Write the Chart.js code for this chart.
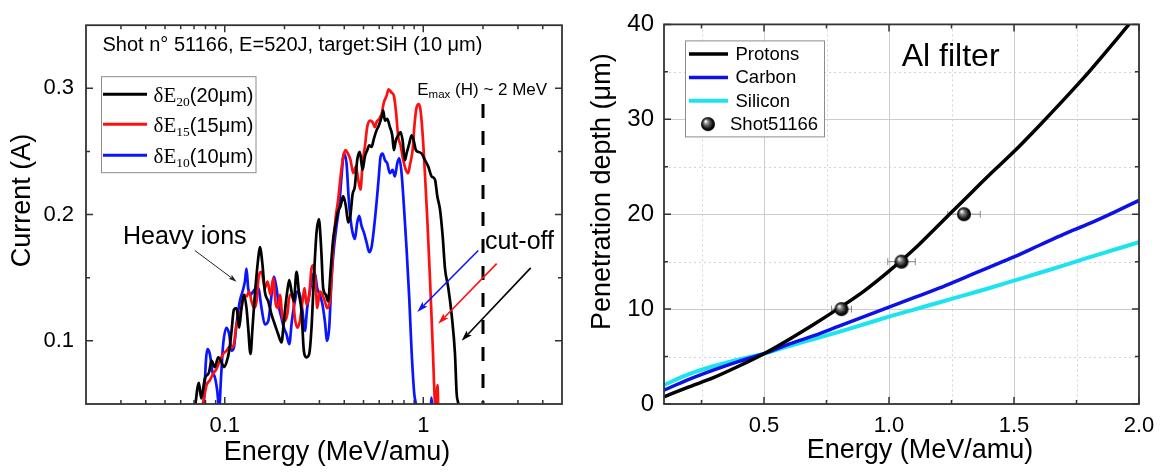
<!DOCTYPE html>
<html>
<head>
<meta charset="utf-8">
<script src="https://cdn.jsdelivr.net/npm/chart.js@4.4.1/dist/chart.umd.min.js"></script>
<style>
  html, body { margin: 0; padding: 0; background: #fff; width: 1165px; height: 473px; overflow: hidden; }
  canvas { position: absolute; top: 0; }
  #spectrum { left: 0; }
  #range { left: 580px; }
</style>
</head>
<body>
<canvas id="spectrum" width="580" height="473"></canvas>
<canvas id="range" width="585" height="473"></canvas>
<script>
const SANS = "'Liberation Sans', Arial, sans-serif";
const SERIF = "'Liberation Serif', 'Times New Roman', serif";

// ---- Ion spectrum, shot 51166 (energy in MeV/amu, current in A) ----
const de20Energy = [0.0705,0.0741,0.0761,0.0794,0.0834,0.0857,0.0891,0.0927,0.0963,0.0990,
  0.1021,0.1053,0.1082,0.1112,0.1146,0.1182,0.1214,0.1249,0.1287,0.1312,
  0.1348,0.1380,0.1418,0.1474,0.1503,0.1550,0.1592,0.1656,0.1721,0.1788,
  0.1859,0.1932,0.1985,0.2064,0.2113,0.2169,0.2229,0.2299,0.2371,0.2437,
  0.2503,0.2582,0.2663,0.2736,0.2812,0.2900,0.2980,0.3061,0.3133,0.3232,
  0.3320,0.3411,0.3518,0.3629,0.3728,0.3832,0.3951,0.4075,0.4187,0.4302,
  0.4403,0.4524,0.4649,0.4794,0.4945,0.5080,0.5220,0.5343,0.5489,0.5642,
  0.5817,0.5977,0.6165,0.6285,0.6408,0.6584,0.6792,0.6979,0.7114,0.7281,
  0.7481,0.7686,0.7867,0.8083,0.8241,0.8501,0.8733,0.8904,0.9185,0.9436,
  0.9808,1.0195,1.060,1.102,1.146,1.177,1.214,1.252,1.287,1.338,
  1.390,1.445,1.473,1.502,1.52];
const de20Current = [0.045,0.0667,0.0544,0.0701,0.0753,0.0844,0.0792,0.0870,0.0831,0.0792,
  0.0831,0.0922,0.1078,0.1247,0.1260,0.1104,0.1260,0.1365,0.1260,0.1104,
  0.0896,0.1104,0.1365,0.1651,0.1742,0.1599,0.1391,0.1313,0.1208,0.1130,
  0.1052,0.0987,0.1156,0.1391,0.1482,0.1391,0.1313,0.1547,0.1365,0.1234,
  0.0922,0.0870,0.0896,0.1104,0.1495,0.1859,0.1964,0.1729,0.1417,0.1365,
  0.1313,0.1547,0.1807,0.1938,0.2029,0.2068,0.2146,0.2068,0.1938,0.2003,
  0.2159,0.2224,0.2432,0.2497,0.2354,0.2458,0.2510,0.2549,0.2536,0.2602,
  0.2667,0.2706,0.2771,0.2823,0.2745,0.2758,0.2693,0.2628,0.2510,0.2589,
  0.2628,0.2654,0.2589,0.2432,0.2484,0.2563,0.2628,0.2602,0.2510,0.2497,
  0.2484,0.2432,0.2380,0.2302,0.2276,0.2146,0.2042,0.1833,0.1573,0.1417,
  0.1208,0.0896,0.0583,0.050,0.040];

const de15Energy = [0.0765,0.0788,0.0809,0.0841,0.0874,0.0909,0.0945,0.0982,0.1021,0.1049,
  0.1082,0.1112,0.1146,0.1178,0.1214,0.1249,0.1287,0.1328,0.1364,0.1407,
  0.1446,0.1486,0.1532,0.1592,0.1643,0.1701,0.1754,0.1809,0.1859,0.1895,
  0.1955,0.2008,0.2064,0.2128,0.2195,0.2255,0.2317,0.2390,0.2465,0.2523,
  0.2582,0.2663,0.2736,0.2790,0.2867,0.2923,0.3014,0.3109,0.3194,0.3281,
  0.3411,0.3518,0.3629,0.3728,0.3832,0.3951,0.4060,0.4171,0.4302,0.4437,
  0.4577,0.4703,0.4831,0.4945,0.5080,0.5220,0.5384,0.5554,0.5707,0.5817,
  0.6000,0.6165,0.6334,0.6533,0.6687,0.6925,0.7114,0.7281,0.7481,0.7686,
  0.7928,0.8178,0.8402,0.8566,0.8836,0.9044,0.9256,0.9511,0.9695,0.9923,
  1.0195,1.048,1.081,1.115,1.146,1.160,1.172,1.180,1.190,1.200];
const de15Current = [0.045,0.0557,0.0648,0.0688,0.0740,0.0779,0.0844,0.0896,0.0922,0.0948,
  0.0948,0.0974,0.1130,0.1182,0.1260,0.1365,0.1352,0.1391,0.1313,0.1260,
  0.1313,0.1521,0.1547,0.1417,0.1469,0.1365,0.1495,0.1286,0.1260,0.1365,
  0.1182,0.1156,0.1208,0.1365,0.1365,0.1182,0.1104,0.1156,0.1313,0.1417,
  0.1286,0.1365,0.1573,0.1599,0.1469,0.1260,0.1391,0.1365,0.1313,0.1260,
  0.1365,0.1755,0.1990,0.2120,0.2302,0.2458,0.2510,0.2484,0.2432,0.2328,
  0.2380,0.2276,0.2198,0.2406,0.2536,0.2693,0.2745,0.2732,0.2693,0.2732,
  0.2758,0.2797,0.2888,0.2940,0.2992,0.2966,0.2940,0.2823,0.2615,0.2549,
  0.2432,0.2354,0.2328,0.2393,0.2510,0.2719,0.2849,0.2875,0.2823,0.2641,
  0.2328,0.1964,0.1495,0.0974,0.050,0.046,0.060,0.065,0.048,0.040];

const de10Energy = [0.0783,0.0804,0.0818,0.0841,0.0867,0.0891,0.0916,0.0938,0.0956,0.0982,
  0.1021,0.1053,0.1082,0.1112,0.1146,0.1191,0.1229,0.1263,0.1287,0.1312,
  0.1348,0.1391,0.1435,0.1474,0.1532,0.1592,0.1656,0.1721,0.1768,0.1823,
  0.1880,0.1932,0.1985,0.2048,0.2113,0.2178,0.2255,0.2317,0.2390,0.2465,
  0.2532,0.2602,0.2684,0.2769,0.2844,0.2923,0.3014,0.3109,0.3194,0.3281,
  0.3359,0.3451,0.3545,0.3657,0.3772,0.3876,0.3982,0.4107,0.4204,0.4302,
  0.4403,0.4524,0.4649,0.4758,0.4887,0.5022,0.5180,0.5343,0.5489,0.5642,
  0.5817,0.5954,0.6094,0.6238,0.6408,0.6584,0.6792,0.7006,0.7197,0.7395,
  0.7569,0.7776,0.7990,0.8241,0.8501,0.8733,0.9008,0.9185,0.930,
  1.090,1.100,1.110];
const de10Current = [0.046,0.0844,0.0935,0.0896,0.0753,0.0714,0.0609,0.046,0.0688,0.0974,
  0.1104,0.1052,0.0922,0.0948,0.1130,0.1313,0.1391,0.1469,0.1573,0.1417,
  0.1365,0.1391,0.1417,0.1417,0.1260,0.1130,0.1156,0.1365,0.1508,0.1417,
  0.1260,0.1182,0.1104,0.1052,0.0974,0.1156,0.1313,0.1391,0.1365,0.1234,
  0.1078,0.1260,0.1391,0.1521,0.1534,0.1417,0.1365,0.1286,0.1156,0.1000,
  0.1104,0.1495,0.1729,0.1911,0.2068,0.2302,0.2484,0.2406,0.2146,0.1964,
  0.1859,0.1807,0.1938,0.1990,0.1911,0.1859,0.1781,0.1703,0.1742,0.1885,
  0.2094,0.2276,0.2458,0.2484,0.2432,0.2406,0.2328,0.2354,0.2302,0.2406,
  0.2445,0.2328,0.2068,0.1729,0.1339,0.0922,0.0583,0.050,0.045,
  0.045,0.055,0.045];

const specLabels = ['20', '15', '10'];          // δE subscripts (filter thickness, μm)
const specColors = ['#000000', '#ff1010', '#0a14ff'];
const specXTicks = [0.1, 1];
const specXTickLabels = ['0.1', '1'];
const specXMinor = [0.03,0.04,0.05,0.06,0.07,0.08,0.09,0.2,0.3,0.4,0.5,0.6,0.7,0.8,0.9,2,3,4];
const specYTicks = [0.1, 0.2, 0.3];
const specYTickLabels = ['0.1', '0.2', '0.3'];
const specYMinor = [0.15, 0.25];
const emaxEnergy = 2;        // proton cut-off marker (MeV)
const emaxLineTop = 0.2875;

// ---- Penetration depth in Al (μm) vs energy (MeV/amu) ----
const rangeEnergy  = [0.1,0.2,0.3,0.4,0.5,0.6,0.7,0.8,0.9,1.0,1.1,1.2,1.3,1.4,1.5,1.6,1.7,1.8,1.9,2.0];
const protonDepth  = [0.76,1.8,2.8,4.0,5.3,6.8,8.4,10.1,11.9,14.0,16.3,18.9,21.5,24.1,26.6,29.3,32.1,35.0,38.1,41.3];
const carbonDepth  = [1.46,2.6,3.6,4.5,5.3,6.3,7.2,8.2,9.2,10.2,11.2,12.2,13.3,14.4,15.5,16.7,17.9,19.0,20.2,21.45];
const siliconDepth = [2.0,3.15,4.0,4.7,5.3,6.1,6.85,7.6,8.4,9.2,9.95,10.7,11.45,12.2,13.0,13.8,14.6,15.45,16.25,17.05];
const shotEnergy    = [0.81, 1.05, 1.30];
const shotEnergyErr = [0.04, 0.055, 0.065];
const shotDepth     = [10, 15, 20];
const rangeXTicks = [0.5, 1.0, 1.5, 2.0];
const rangeXTickLabels = ['0.5', '1.0', '1.5', '2.0'];
const rangeXMinor = [0.25, 0.75, 1.25, 1.75];
const rangeYTicks = [0, 10, 20, 30, 40];
const rangeYTickLabels = ['0', '10', '20', '30', '40'];
const rangeYMinor = [5, 15, 25, 35];

const zip = (xs, ys) => xs.map((v, i) => ({ x: v, y: ys[i] }));

// Inward ticks on all four sides plus the closed frame.
function drawFrame(chart, s) {
  const { ctx, chartArea: a, scales: { x, y } } = chart;
  ctx.save();
  ctx.strokeStyle = '#333';
  ctx.lineWidth = 1.5;
  ctx.beginPath();
  const xt = (vals, len) => vals.forEach(v => {
    const p = x.getPixelForValue(v);
    ctx.moveTo(p, a.bottom); ctx.lineTo(p, a.bottom - len);
    ctx.moveTo(p, a.top); ctx.lineTo(p, a.top + len);
  });
  const yt = (vals, len) => vals.forEach(v => {
    const p = y.getPixelForValue(v);
    ctx.moveTo(a.left, p); ctx.lineTo(a.left + len, p);
    ctx.moveTo(a.right, p); ctx.lineTo(a.right - len, p);
  });
  xt(s.xMajor, 7); xt(s.xMinor, 4);
  yt(s.yMajor, 7); yt(s.yMinor, 4);
  ctx.stroke();
  ctx.lineWidth = 1.8;
  ctx.strokeRect(a.left, a.top, a.right - a.left, a.bottom - a.top);
  ctx.restore();
}

function drawAxisTitles(chart, t) {
  const { ctx, chartArea: a } = chart;
  const cx = (a.left + a.right) / 2, cy = (a.top + a.bottom) / 2;
  ctx.save();
  ctx.fillStyle = '#000';
  ctx.font = '27px ' + SANS;
  ctx.textAlign = 'center';
  ctx.textBaseline = 'middle';
  ctx.fillText(t.x, cx + t.xShift, a.bottom + t.xDrop);
  ctx.translate(t.yLeft, cy + t.yShift);
  ctx.rotate(-Math.PI / 2);
  ctx.fillText(t.y, 0, 0);
  ctx.restore();
}

function arrow(ctx, x1, y1, x2, y2, color, w, hl, hw) {
  const ang = Math.atan2(y2 - y1, x2 - x1);
  ctx.save();
  ctx.strokeStyle = color; ctx.fillStyle = color; ctx.lineWidth = w;
  ctx.beginPath();
  ctx.moveTo(x1, y1);
  ctx.lineTo(x2 - Math.cos(ang) * hl * 0.8, y2 - Math.sin(ang) * hl * 0.8);
  ctx.stroke();
  ctx.translate(x2, y2); ctx.rotate(ang);
  ctx.beginPath();
  ctx.moveTo(0, 0); ctx.lineTo(-hl, hw / 2); ctx.lineTo(-hl * 0.8, 0); ctx.lineTo(-hl, -hw / 2);
  ctx.closePath(); ctx.fill();
  ctx.restore();
}

const spectrumDecor = {
  id: 'spectrumDecor',
  afterDatasetsDraw(chart) {
    const { ctx, chartArea: a, scales: { x, y } } = chart;
    const px = v => x.getPixelForValue(v), py = v => y.getPixelForValue(v);

    // proton cut-off marker
    ctx.save();
    ctx.strokeStyle = '#000'; ctx.lineWidth = 3; ctx.setLineDash([14, 13]);
    ctx.beginPath();
    ctx.moveTo(px(emaxEnergy), py(emaxLineTop));
    ctx.lineTo(px(emaxEnergy), a.bottom);
    ctx.stroke();
    ctx.restore();

    ctx.save();
    ctx.fillStyle = '#000';
    ctx.textBaseline = 'alphabetic';
    ctx.textAlign = 'left';

    // header
    ctx.font = '20px ' + SANS;
    ctx.fillText('Shot n° 51166, E=520J, target:SiH (10 μm)', a.left + 16.5, a.top + 25.7);

    // E_max label
    let ex = px(0.933), ey = py(0.2948);
    ctx.font = '17px ' + SANS;
    ctx.fillText('E', ex, ey);
    ex += ctx.measureText('E').width;
    ctx.font = '11.5px ' + SANS;
    ctx.fillText('max', ex, ey + 3);
    ex += ctx.measureText('max').width;
    ctx.font = '17px ' + SANS;
    ctx.fillText(' (H) ~ 2 MeV', ex, ey);

    // annotations
    ctx.font = '25px ' + SANS;
    ctx.fillText('Heavy ions', px(0.0307), py(0.1768));
    ctx.fillText('cut-off', px(2.046), py(0.1724));
    ctx.restore();

    arrow(ctx, px(0.0707), py(0.1716), px(0.1147), py(0.1469), '#222', 1, 8, 5);
    arrow(ctx, px(1.893), py(0.1716), px(0.933), py(0.1229), specColors[2], 1.6, 11, 7);
    arrow(ctx, px(2.344), py(0.1612), px(1.190), py(0.1135), specColors[1], 1.6, 11, 7);
    arrow(ctx, px(3.478), py(0.1578), px(1.561), py(0.100), specColors[0], 1.6, 11, 7);

    // legend
    const L = a.left, T = a.top;
    ctx.save();
    ctx.fillStyle = '#fff';
    ctx.fillRect(L + 15.5, T + 51.5, 154.5, 96);
    ctx.strokeStyle = '#8c8c8c'; ctx.lineWidth = 1;
    ctx.strokeRect(L + 15.5, T + 51.5, 154.5, 96);
    const rows = [69, 99, 130];
    specLabels.forEach((sub, i) => {
      const yy = T + rows[i];
      ctx.strokeStyle = specColors[i]; ctx.lineWidth = 3;
      ctx.beginPath(); ctx.moveTo(L + 17, yy); ctx.lineTo(L + 61, yy); ctx.stroke();
      ctx.fillStyle = '#000';
      let tx = L + 67.5;
      const base = yy + 7.5;
      ctx.font = '21px ' + SERIF;
      ctx.fillText('δE', tx, base);
      tx += ctx.measureText('δE').width;
      ctx.font = '13.5px ' + SERIF;
      ctx.fillText(sub, tx, base + 4.5);
      tx += ctx.measureText(sub).width;
      ctx.font = '20px ' + SANS;
      ctx.fillText('(' + sub + 'μm)', tx, base);
    });
    ctx.restore();
  },
  afterDraw(chart) {
    drawFrame(chart, { xMajor: specXTicks, xMinor: specXMinor, yMajor: specYTicks, yMinor: specYMinor });
    drawAxisTitles(chart, { x: 'Energy (MeV/amu)', xShift: 13, xDrop: 49, y: 'Current (A)', yLeft: 23, yShift: -14 });
  }
};

const specDatasets = [
  [de20Energy, de20Current],
  [de15Energy, de15Current],
  [de10Energy, de10Current]
].map(([e, c], i) => ({
  label: 'δE' + specLabels[i],
  data: zip(e, c),
  borderColor: specColors[i],
  borderWidth: 2.7,
  pointRadius: 0,
  cubicInterpolationMode: 'monotone',
  borderJoinStyle: 'round',
  clip: 0,
  order: i
}));

new Chart(document.getElementById('spectrum'), {
  type: 'line',
  data: { datasets: specDatasets },
  options: {
    responsive: false,
    animation: false,
    events: [],
    layout: { padding: { left: 0, top: 21, right: 18, bottom: 0 } },
    plugins: { legend: { display: false }, tooltip: { enabled: false } },
    scales: {
      x: {
        type: 'logarithmic', min: 0.02, max: 5,
        grid: { display: false, drawTicks: false },
        border: { display: false },
        afterBuildTicks: s => { s.ticks = specXTicks.map(v => ({ value: v })); },
        afterFit: s => { s.height = 69; },
        ticks: {
          autoSkip: false, maxRotation: 0, padding: 9, color: '#000',
          font: { family: SANS, size: 22 },
          callback: (v, i) => specXTickLabels[i]
        }
      },
      y: {
        type: 'linear', min: 0.05, max: 0.35,
        grid: { display: false, drawTicks: false },
        border: { display: false },
        afterBuildTicks: s => { s.ticks = specYTicks.map(v => ({ value: v })); },
        afterFit: s => { s.width = 86; },
        ticks: {
          padding: 12, color: '#000',
          font: { family: SANS, size: 22 },
          callback: (v, i) => specYTickLabels[i]
        }
      }
    }
  },
  plugins: [spectrumDecor]
});

// ---- penetration depth chart ----
function sphereImage(r) {
  const c = document.createElement('canvas');
  c.width = c.height = 2 * r + 2;
  const g = c.getContext('2d');
  const m = r + 1;
  const grad = g.createRadialGradient(m - r * 0.35, m - r * 0.4, r * 0.08, m, m, r);
  grad.addColorStop(0, '#f4f4f4');
  grad.addColorStop(0.3, '#7a7a7a');
  grad.addColorStop(0.75, '#111');
  grad.addColorStop(1, '#000');
  g.fillStyle = grad;
  g.beginPath(); g.arc(m, m, r, 0, Math.PI * 2); g.fill();
  return c;
}
const sphere = sphereImage(7);

const rangeColors = { protons: '#000000', carbon: '#0c12e6', silicon: '#1de3ef' };

const rangeDecor = {
  id: 'rangeDecor',
  beforeDatasetsDraw(chart) {
    const { ctx, chartArea: a, scales: { x, y } } = chart;
    ctx.save();
    ctx.lineWidth = 1;
    const vline = v => { const p = Math.round(x.getPixelForValue(v)) + 0.5; ctx.beginPath(); ctx.moveTo(p, a.top); ctx.lineTo(p, a.bottom); ctx.stroke(); };
    const hline = v => { const p = Math.round(y.getPixelForValue(v)) + 0.5; ctx.beginPath(); ctx.moveTo(a.left, p); ctx.lineTo(a.right, p); ctx.stroke(); };
    ctx.strokeStyle = '#d4d4d4';
    ctx.setLineDash([2, 3]);
    rangeXMinor.forEach(vline); rangeYMinor.forEach(hline);
    ctx.setLineDash([]);
    ctx.strokeStyle = '#cccccc';
    rangeXTicks.forEach(vline); rangeYTicks.forEach(hline);

    // horizontal error bars of the measured points
    ctx.strokeStyle = '#8a8a8a'; ctx.lineWidth = 1;
    shotEnergy.forEach((e, i) => {
      const yy = y.getPixelForValue(shotDepth[i]);
      const x1 = x.getPixelForValue(e - shotEnergyErr[i]);
      const x2 = x.getPixelForValue(e + shotEnergyErr[i]);
      ctx.beginPath();
      ctx.moveTo(x1, yy); ctx.lineTo(x2, yy);
      ctx.moveTo(x1, yy - 3.5); ctx.lineTo(x1, yy + 3.5);
      ctx.moveTo(x2, yy - 3.5); ctx.lineTo(x2, yy + 3.5);
      ctx.stroke();
    });
    ctx.restore();
  },
  afterDraw(chart) {
    const { ctx, chartArea: a, scales: { x, y } } = chart;
    drawFrame(chart, { xMajor: rangeXTicks, xMinor: rangeXMinor, yMajor: rangeYTicks, yMinor: rangeYMinor });
    drawAxisTitles(chart, { x: 'Energy (MeV/amu)', xShift: 18.5, xDrop: 47, y: 'Penetration depth (μm)', yLeft: 23, yShift: -22.5 });

    ctx.save();
    ctx.fillStyle = '#000';
    ctx.textAlign = 'left';
    ctx.textBaseline = 'alphabetic';
    ctx.font = '32px ' + SANS;
    ctx.fillText('Al filter', x.getPixelForValue(1.051), y.getPixelForValue(35.58));

    // legend
    const L = a.left, T = a.top;
    ctx.fillStyle = '#fff';
    ctx.fillRect(L + 21.5, T + 16.5, 139, 96);
    ctx.strokeStyle = '#8c8c8c'; ctx.lineWidth = 1;
    ctx.strokeRect(L + 21.5, T + 16.5, 139, 96);
    const entries = [
      ['Protons', rangeColors.protons, 3.5],
      ['Carbon', rangeColors.carbon, 3.5],
      ['Silicon', rangeColors.silicon, 4]
    ];
    const rows = [29.7, 53, 76.3];
    ctx.font = '18.5px ' + SANS;
    ctx.textBaseline = 'middle';
    entries.forEach(([name, col, w], i) => {
      const yy = T + rows[i];
      ctx.strokeStyle = col; ctx.lineWidth = w;
      ctx.beginPath(); ctx.moveTo(L + 25, yy); ctx.lineTo(L + 64, yy); ctx.stroke();
      ctx.fillStyle = '#000';
      ctx.fillText(name, L + 71.5, yy + 1);
    });
    ctx.drawImage(sphere, L + 44 - sphere.width / 2, T + 99.7 - sphere.height / 2);
    ctx.fillText('Shot51166', L + 66, T + 100.7);
    ctx.restore();
  }
};

new Chart(document.getElementById('range'), {
  type: 'scatter',
  data: {
    datasets: [
      { label: 'Protons', data: zip(rangeEnergy, protonDepth), showLine: true, borderColor: rangeColors.protons, borderWidth: 3.5, pointRadius: 0, cubicInterpolationMode: 'monotone', clip: 0, order: 1 },
      { label: 'Carbon', data: zip(rangeEnergy, carbonDepth), showLine: true, borderColor: rangeColors.carbon, borderWidth: 3.5, pointRadius: 0, cubicInterpolationMode: 'monotone', clip: 0, order: 2 },
      { label: 'Silicon', data: zip(rangeEnergy, siliconDepth), showLine: true, borderColor: rangeColors.silicon, borderWidth: 4, pointRadius: 0, cubicInterpolationMode: 'monotone', clip: 0, order: 3 },
      { label: 'Shot51166', data: zip(shotEnergy, shotDepth), showLine: false, pointStyle: sphere, pointRadius: 7, order: 0 }
    ]
  },
  options: {
    responsive: false,
    animation: false,
    events: [],
    layout: { padding: { left: 0, top: 21, right: 26, bottom: 0 } },
    plugins: { legend: { display: false }, tooltip: { enabled: false } },
    scales: {
      x: {
        type: 'linear', min: 0.1, max: 2.0,
        grid: { display: false, drawTicks: false },
        border: { display: false },
        afterBuildTicks: s => { s.ticks = rangeXTicks.map(v => ({ value: v })); },
        afterFit: s => { s.height = 69; },
        ticks: {
          autoSkip: false, maxRotation: 0, padding: 9, color: '#000',
          font: { family: SANS, size: 22 },
          callback: (v, i) => rangeXTickLabels[i]
        }
      },
      y: {
        type: 'linear', min: 0, max: 40,
        grid: { display: false, drawTicks: false },
        border: { display: false },
        afterBuildTicks: s => { s.ticks = rangeYTicks.map(v => ({ value: v })); },
        afterFit: s => { s.width = 84; },
        ticks: {
          padding: 10, color: '#000',
          font: { family: SANS, size: 24 },
          callback: (v, i) => rangeYTickLabels[i]
        }
      }
    }
  },
  plugins: [rangeDecor]
});
</script>
</body>
</html>
